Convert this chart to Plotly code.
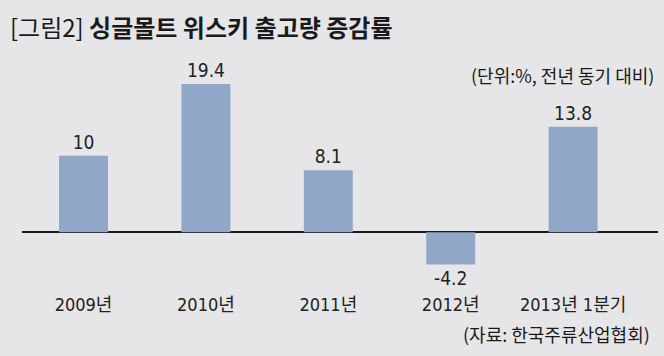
import plotly.graph_objects as go

categories = ["2009년", "2010년", "2011년", "2012년", "2013년 1분기"]
values = [10, 19.4, 8.1, -4.2, 13.8]
value_labels = ["10", "19.4", "8.1", "-4.2", "13.8"]

BG = "#e6e6e8"
BAR = "#91a7c8"
FONT = "DejaVu Sans Condensed, Liberation Sans Narrow, Noto Sans CJK KR, sans-serif"
KFONT = "Noto Sans CJK KR, DejaVu Sans Condensed, sans-serif"

W, H = 664, 356
plot_left, plot_right = 22, 658
plot_top, plot_bottom = 60, 292
baseline_px = 232.3
px_per_unit = 7.65
cat0_px = 83.5
cat_step = 122.4

y_top = (baseline_px - plot_top) / px_per_unit
y_bot = -(plot_bottom - baseline_px) / px_per_unit
x_left = -(cat0_px - plot_left) / cat_step
x_right = (plot_right - cat0_px) / cat_step


def px_to_paper(px, py):
    return ((px - plot_left) / (plot_right - plot_left),
            (plot_bottom - py) / (plot_bottom - plot_top))


fig = go.Figure(
    go.Bar(
        x=list(range(len(categories))),
        y=values,
        text=value_labels,
        textposition="outside",
        textfont=dict(family=FONT, size=19, color="#222"),
        marker=dict(color=BAR, line=dict(width=0)),
        width=0.40,
        cliponaxis=False,
    )
)

fig.update_layout(
    width=W,
    height=H,
    paper_bgcolor=BG,
    plot_bgcolor=BG,
    margin=dict(l=plot_left, r=W - plot_right, t=plot_top, b=H - plot_bottom),
    showlegend=False,
    font=dict(family=FONT, color="#222"),
    xaxis=dict(
        range=[x_left, x_right],
        tickvals=list(range(len(categories))),
        ticktext=categories,
        showgrid=False,
        zeroline=False,
        showline=False,
        ticks="",
        tickfont=dict(family=FONT, size=18, color="#222"),
        fixedrange=True,
    ),
    yaxis=dict(
        range=[y_bot, y_top],
        showgrid=False,
        zeroline=True,
        zerolinecolor="#1a1a1a",
        zerolinewidth=2,
        showticklabels=False,
        ticks="",
        fixedrange=True,
    ),
)

tx, ty = px_to_paper(8, 26)
fig.add_annotation(
    x=tx, y=ty, xref="paper", yref="paper",
    xanchor="left", yanchor="middle", showarrow=False,
    text="[그림2] <b>싱글몰트 위스키 출고량 증감률</b>",
    font=dict(family=KFONT, size=24, color="#1a1a1a"),
)
sx, sy = px_to_paper(656, 75)
fig.add_annotation(
    x=sx, y=sy, xref="paper", yref="paper",
    xanchor="right", yanchor="middle", showarrow=False,
    text="(단위:%, 전년 동기 대비)",
    font=dict(family=KFONT, size=18, color="#1a1a1a"),
)
rx, ry = px_to_paper(652, 334)
fig.add_annotation(
    x=rx, y=ry, xref="paper", yref="paper",
    xanchor="right", yanchor="middle", showarrow=False,
    text="(자료: 한국주류산업협회)",
    font=dict(family=KFONT, size=18, color="#1a1a1a"),
)

fig.write_html(
    "out.html",
    config={"displayModeBar": False},
    post_script="document.body.style.margin='0';",
)
